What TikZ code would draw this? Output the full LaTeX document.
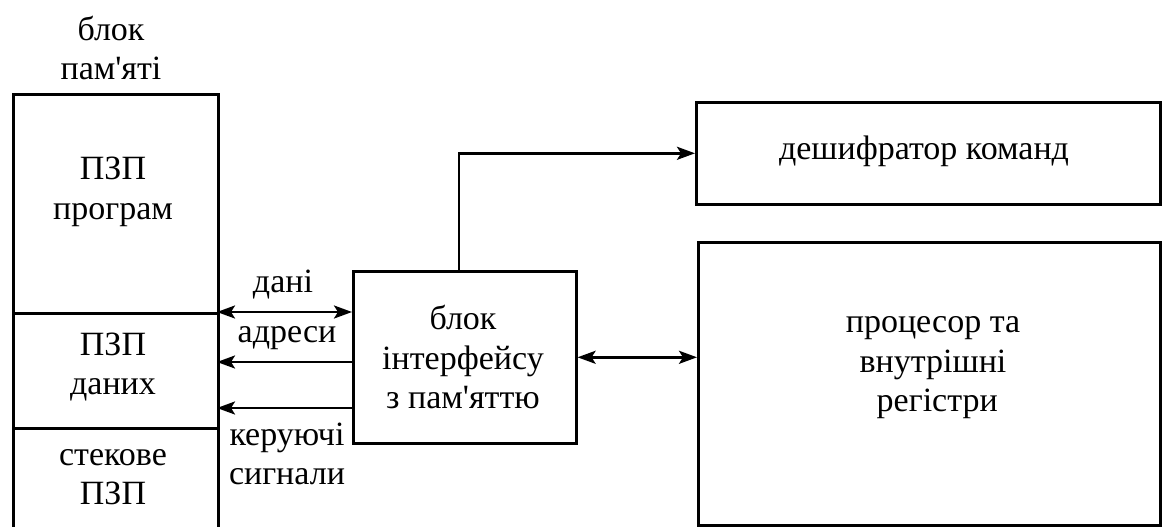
\documentclass[tikz,border=0pt]{standalone}
\usepackage{fontspec}
\setmainfont{Liberation Serif}[Ligatures=TeXOff]
\usetikzlibrary{arrows.meta}
\tikzset{
  box/.style={draw, line width=2.6pt, inner sep=0pt, anchor=north west},
  txt/.style={align=center, inner sep=0pt, font=\fontsize{34}{39.5}\selectfont},
  conn/.style={line width=2.6pt},
  tip/.tip={Stealth[length=18pt,width=13pt,inset=4pt]}
}
\begin{document}
\begin{tikzpicture}[x=1pt,y=-1pt]
\useasboundingbox (0,0) rectangle (1162,527);
% memory block
\node[box, minimum width=205pt, minimum height=219pt] (prog) at (12,93) {};
\node[box, minimum width=205pt, minimum height=115pt] (datm) at (12,312) {};
\node[box, minimum width=205pt, minimum height=120pt] (stk) at (12,427) {};
\node[txt] (memlbl) at (111,48) {блок\\пам'яті};
\node[txt] (progt) at (113,192) {ПЗП\\програм};
\node[txt] (datmt) at (113,367) {ПЗП\\даних};
\node[txt] (stkt) at (113,477) {стекове\\ПЗП};
% interface
\node[box, minimum width=223pt, minimum height=172pt] (iface) at (352,270) {};
\node[txt] (ifacet) at (463,357) {блок\\інтерфейсу\\з пам'яттю};
% decoder
\node[box, minimum width=464pt, minimum height=102pt] (dec) at (695,101) {};
\node[txt] (dect) at (924,151) {дешифратор команд};
% processor
\node[box, minimum width=462pt, minimum height=283pt] (proc) at (697,241) {};
\node[txt] (proct) at (933,368) {процесор та\\внутрішні\\\ регістри};
% connectors
\coordinate (dL) at (217,312);
\coordinate (dR) at (352,312);
\draw[conn, tip-tip] (dL) -- (dR);
\node[txt] (danit) at (283,285) {дані};
\coordinate (aR) at (352,362);
\coordinate (aL) at (217,362);
\draw[conn, -tip] (aR) -- (aL);
\node[txt] (adrt) at (287,338) {адреси};
\coordinate (cR) at (352,408);
\coordinate (cL) at (217,408);
\draw[conn, -tip] (cR) -- (cL);
\node[txt] (ctrlt) at (287,454) {керуючі\\сигнали};
\draw[conn, tip-tip] (iface.east) -- (proc.west |- iface.east);
\coordinate (up) at (459,270);
\draw[conn, -tip] (up) |- (dec.west);
\end{tikzpicture}
\end{document}
